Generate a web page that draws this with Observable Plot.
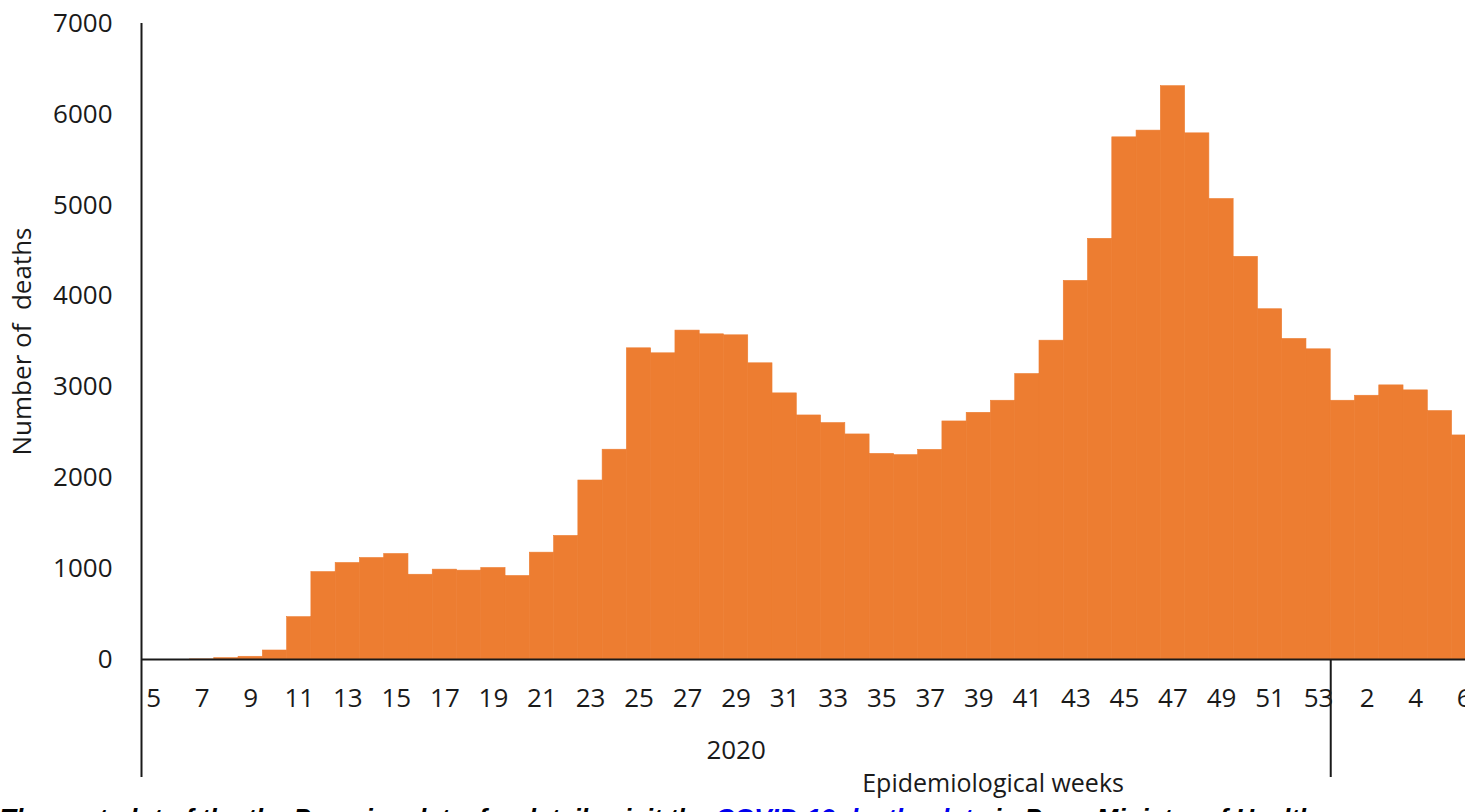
<!DOCTYPE html>
<html><head><meta charset="utf-8">
<script src="https://cdn.jsdelivr.net/npm/d3@7"></script>
<script src="https://cdn.jsdelivr.net/npm/@observablehq/plot@0.6"></script>
<style>
html,body{margin:0;padding:0;background:#fff;overflow:hidden;width:1465px;height:812px;position:relative}
#chart svg{display:block}
#caption{position:absolute;left:0;top:805px;font:bold italic 26px "Liberation Sans",Arial,sans-serif;line-height:26px;white-space:nowrap;color:#000}
#caption .link{color:#0000ee}
</style></head><body>
<div id="chart"></div>
<div id="caption">The next plot of the the Peruvian data, for details visit the <span class="link">COVID-19 deaths data</span> in Peru, Ministry of Health</div>
<script>
const weeks2020 = [5,6,7,8,9,10,11,12,13,14,15,16,17,18,19,20,21,22,23,24,25,26,27,28,29,30,31,32,33,34,35,36,37,38,39,40,41,42,43,44,45,46,47,48,49,50,51,52,53];
const deaths2020 = [0,0,1,15,30,99,466,962,1062,1117,1161,933,989,978,1007,919,1176,1360,1970,2309,3425,3370,3620,3579,3568,3260,2929,2686,2602,2477,2263,2249,2307,2620,2715,2848,3142,3509,4167,4630,5747,5821,6310,5791,5068,4432,3855,3528,3414];
const weeks2021 = [1,2,3,4,5,6];
const deaths2021 = [2848,2903,3017,2962,2734,2466];
const yTicks = [0,1000,2000,3000,4000,5000,6000,7000];
const yearLabel = "2020";
const xTitle = "Epidemiological weeks";
const yTitle = "Number of\u00a0 deaths";

const rows = [
  ...weeks2020.map((w, i) => ({key: `2020-${w}`, year: 2020, week: w, deaths: deaths2020[i]})),
  ...weeks2021.map((w, i) => ({key: `2021-${w}`, year: 2021, week: w, deaths: deaths2021[i]}))
];
const keys = rows.map(d => d.key);
const labelled = rows.filter(d => d.year === 2020 ? d.week % 2 === 1 : d.week % 2 === 0).map(d => d.key);
const labelOf = new Map(rows.map(d => [d.key, String(d.week)]));

const W = 1465, H = 812, left = 141, step = 24.27, zeroY = 659, topY = 23;
const ink = "#1a1a1a";

const chart = Plot.plot({
  width: W, height: H,
  marginLeft: left, marginRight: 0, marginTop: topY, marginBottom: H - zeroY,
  style: {fontFamily: '"Open Sans", sans-serif', fontSize: "26px", color: ink, background: "#fff", overflow: "hidden"},
  x: {type: "band", domain: keys, range: [left, left + step * keys.length], padding: 0, round: false},
  y: {domain: [0, 7000]},
  marks: [
    Plot.barY(rows, {x: "key", y: "deaths", fill: "#ED7D31", stroke: "#ED7D31", strokeWidth: 0.6}),
    Plot.axisY(yTicks, {tickSize: 0, tickPadding: 29, label: null, fontSize: 26, tickFormat: d => String(d)}),
    Plot.axisX(labelled, {tickSize: 0, tickPadding: 29, tickFormat: k => labelOf.get(k), label: null, fontSize: 26}),
    Plot.ruleY([0], {stroke: ink, strokeWidth: 2}),
    Plot.ruleX([keys[0]], {dx: -step / 2, stroke: ink, strokeWidth: 2, insetBottom: -118}),
    Plot.ruleX(["2021-1"], {dx: -step / 2, stroke: ink, strokeWidth: 2, insetTop: zeroY - topY, insetBottom: -118}),
    Plot.text([yearLabel], {x: () => "2020-29", frameAnchor: "bottom", dy: 99, text: d => d, fontSize: 26, fill: ink}),
    Plot.text([xTitle], {x: () => "2020-40", frameAnchor: "bottom", dy: 132, dx: -10, text: d => d, fontSize: 25, fill: ink}),
    Plot.text([yTitle], {frameAnchor: "left", textAnchor: "middle", rotate: -90, dx: -119, text: d => d, fontSize: 26, fill: ink})
  ]
});
document.getElementById("chart").appendChild(chart);
</script>
</body></html>
